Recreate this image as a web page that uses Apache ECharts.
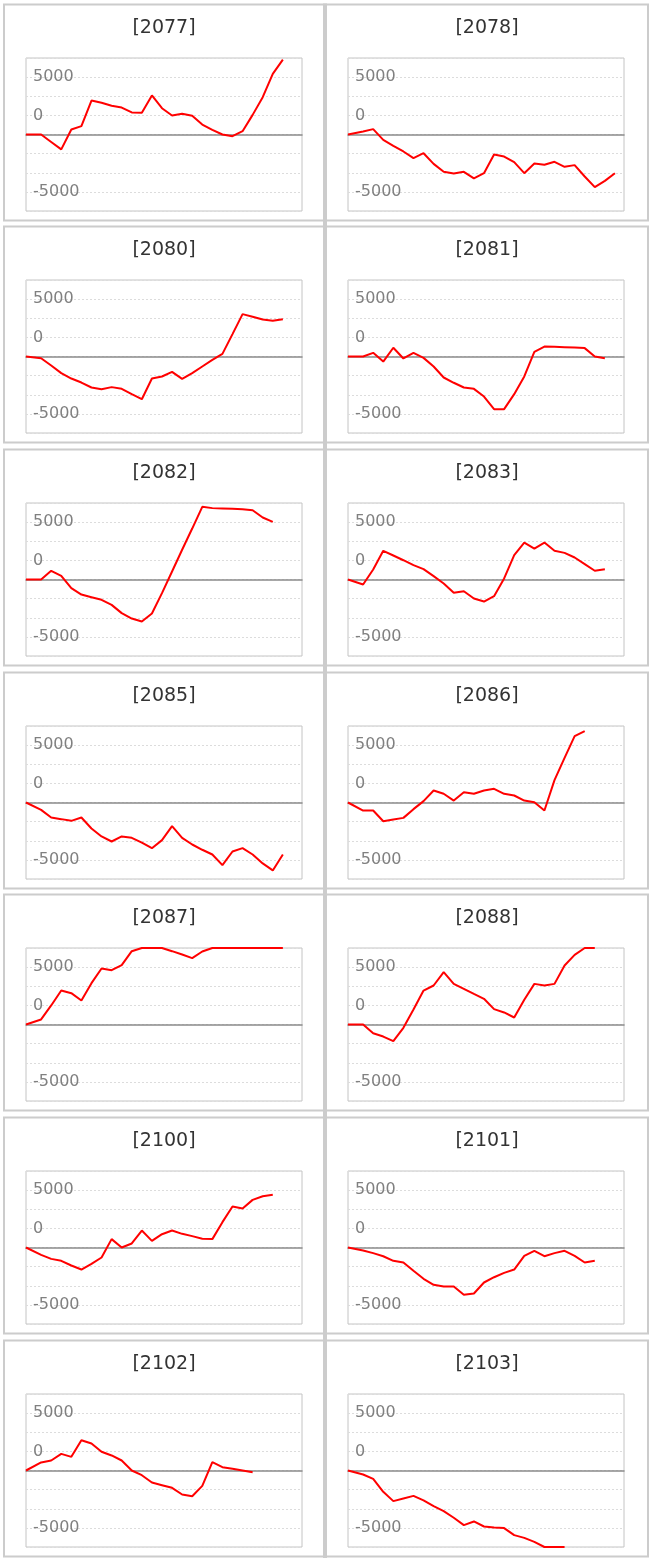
<!DOCTYPE html>
<html>
<head>
<meta charset="utf-8">
<script src="https://cdn.jsdelivr.net/npm/echarts@6/dist/echarts.min.js"></script>
<style>
  html, body { margin: 0; padding: 0; background: #ffffff; }
  #chart { width: 653px; height: 1561px; }
</style>
</head>
<body>
<div id="chart"></div>
<script>
// ---- data ----
const codes = ['2077', '2078', '2080', '2081', '2082', '2083', '2085', '2086', '2087', '2088', '2100', '2101', '2102', '2103'];
// x positions of the samples (first sample is the starting point)
const xPos = [0, 1.5, 2.5, 3.5, 4.5, 5.5, 6.5, 7.5, 8.5, 9.5, 10.5, 11.5, 12.5, 13.5, 14.5, 15.5, 16.5, 17.5, 18.5, 19.5, 20.5, 21.5, 22.5, 23.5, 24.5, 25.5, 26.5];
const s2077 = [0, 0, -650, -1300, 440, 730, 2960, 2760, 2500, 2350, 1920, 1890, 3400, 2290, 1660, 1800, 1630, 870, 410, 0, -150, 290, 1710, 3250, 5290, 6530];
const s2078 = [0, 270, 470, -470, -990, -1480, -2060, -1630, -2560, -3250, -3400, -3250, -3830, -3370, -1740, -1920, -2410, -3370, -2530, -2640, -2380, -2820, -2670, -3660, -4590, -4040, -3370];
const s2080 = [0, -150, -780, -1450, -1920, -2270, -2700, -2850, -2670, -2820, -3280, -3720, -1920, -1740, -1340, -1950, -1450, -870, -290, 230, 1950, 3690, 3460, 3220, 3110, 3250];
const s2081 = [0, 0, 320, -440, 760, -170, 320, -120, -870, -1830, -2290, -2700, -2820, -3490, -4590, -4590, -3280, -1740, 410, 870, 840, 810, 780, 730, 0, -150];
const s2082 = [0, 0, 760, 320, -760, -1310, -1540, -1770, -2210, -2930, -3400, -3660, -2960, -1190, 700, 2590, 4440, 6330, 6220, 6190, 6160, 6130, 6040, 5400, 5020];
const s2083 = [0, -440, 870, 2500, 2090, 1680, 1250, 900, 290, -350, -1160, -1020, -1660, -1920, -1450, 90, 2120, 3220, 2700, 3220, 2500, 2320, 1920, 1340, 760, 900];
const s2085 = [0, -640, -1310, -1450, -1600, -1310, -2270, -2960, -3400, -2960, -3080, -3490, -3980, -3280, -2060, -3080, -3660, -4120, -4530, -5460, -4270, -3980, -4530, -5310, -5920, -4530];
const s2086 = [0, -700, -700, -1630, -1480, -1340, -580, 120, 1050, 760, 170, 900, 760, 1050, 1190, 760, 610, 170, 30, -700, 1950, 3890, 5780, 6220];
const s2087 = [0, 440, 1660, 2960, 2730, 2090, 3600, 4880, 4730, 5170, 6390, 6680, 7200, 6900, 6390, 6100, 5780, 6360, 6700, 7000, 7300, 7500, 7400, 7600, 7800, 7700];
const s2088 = [0, 0, -760, -1050, -1450, -290, 1310, 2960, 3400, 4560, 3540, 3110, 2670, 2240, 1340, 1050, 610, 2150, 3540, 3400, 3540, 5140, 6070, 6680, 7000];
const s2100 = [0, -640, -990, -1160, -1570, -1920, -1420, -870, 730, 0, 350, 1480, 580, 1160, 1480, 1190, 990, 760, 730, 2210, 3570, 3400, 4150, 4470, 4590];
const s2101 = [0, -260, -490, -760, -1160, -1310, -2030, -2730, -3250, -3400, -3400, -4120, -4010, -3050, -2590, -2210, -1920, -730, -290, -760, -490, -290, -730, -1310, -1160];
const s2102 = [0, 700, 870, 1450, 1190, 2640, 2350, 1630, 1310, 870, 0, -410, -1050, -1280, -1510, -2090, -2240, -1340, 730, 290, 150, 0, -150];
const s2103 = [0, -350, -730, -1860, -2670, -2440, -2210, -2610, -3110, -3540, -4120, -4760, -4440, -4880, -4970, -5020, -5630, -5870, -6220, -6700, -7000, -7100];
const seriesValues = [s2077, s2078, s2080, s2081, s2082, s2083, s2085, s2086, s2087, s2088, s2100, s2101, s2102, s2103];
// y ticks run from the bottom edge to the top edge of every panel
const yStep = 5000 / 3;
const yTickLabels = ['', '-5000', '', '', '', '0', '', '5000', ''];

// ---- layout ----
const rowZero = [135, 357, 580, 803, 1025, 1248, 1471];
const FONT = 'DejaVu Sans';
const yMin = -4 * yStep, yMax = 4 * yStep;

const grids = [], xAxes = [], yAxes = [], series = [], titles = [], graphics = [];

codes.forEach(function (code, i) {
  const row = Math.floor(i / 2), col = i % 2;
  const zero = rowZero[row];
  const ox = col * 322;

  graphics.push({
    type: 'rect', silent: true, z: -10,
    shape: { x: col === 0 ? 4 : 326, y: zero - 130.5, width: col === 0 ? 320 : 322, height: 216 },
    style: { fill: '#ffffff', stroke: '#cccccc', lineWidth: 2 }
  });

  titles.push({
    text: '[' + code + ']',
    left: 164 + col * 323,
    top: zero - 107,
    textAlign: 'center',
    textVerticalAlign: 'middle',
    padding: 0,
    textStyle: { fontFamily: FONT, fontSize: 19, fontWeight: 'normal', color: '#333333' }
  });

  grids.push({
    left: 26 + ox, top: zero - 77, width: 276, height: 153,
    show: true, borderColor: '#c4c4c4', borderWidth: 1, backgroundColor: 'transparent'
  });

  xAxes.push({
    type: 'value', gridIndex: i, min: 0, max: 27.4,
    axisLine: { show: true, onZero: true, lineStyle: { color: '#8a8a8a', width: 1.5 } },
    axisTick: { show: false }, axisLabel: { show: false }, splitLine: { show: false }
  });

  yAxes.push({
    type: 'value', gridIndex: i, min: yMin, max: yMax, interval: yStep,
    axisLine: { show: false }, axisTick: { show: false },
    splitLine: { show: true, lineStyle: { color: '#dcdcdc', width: 1, type: [2, 2] } },
    axisLabel: {
      show: true, inside: true, margin: 7,
      fontFamily: FONT, fontSize: 16, color: '#808080',
      showMinLabel: true, showMaxLabel: true,
      formatter: function (v, idx) { return yTickLabels[idx] || ''; }
    }
  });

  // values beyond the visible window are held at the panel edge, as in the original
  series.push({
    type: 'line', xAxisIndex: i, yAxisIndex: i,
    data: seriesValues[i].map(function (v, k) { return [xPos[k], Math.max(yMin, Math.min(yMax, v))]; }),
    showSymbol: false, symbol: 'none', clip: true,
    lineStyle: { color: '#ff0000', width: 2 },
    itemStyle: { color: '#ff0000' }
  });
});

graphics.push({
  type: 'rect', silent: true, z: -9,
  shape: { x: 323, y: 3.5, width: 4, height: rowZero[6] + 87 - 3.5 },
  style: { fill: '#cccccc' }
});

const chart = echarts.init(document.getElementById('chart'), null, { renderer: 'canvas' });
chart.setOption({
  animation: false,
  backgroundColor: '#ffffff',
  title: titles,
  grid: grids,
  xAxis: xAxes,
  yAxis: yAxes,
  series: series,
  graphic: { elements: graphics }
});
</script>
</body>
</html>
